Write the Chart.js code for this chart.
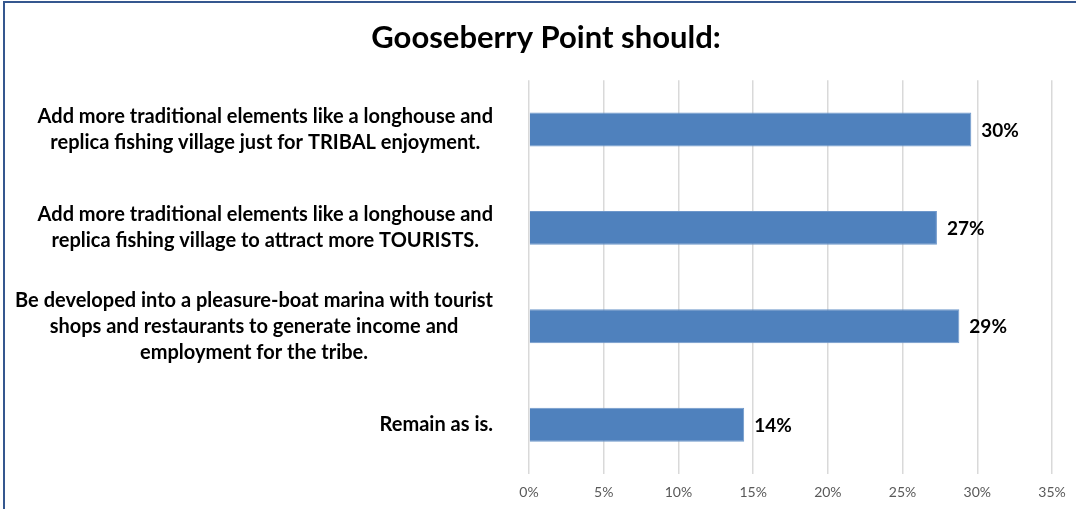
<!DOCTYPE html>
<html>
<head>
<meta charset="utf-8">
<script src="https://cdn.jsdelivr.net/npm/chart.js@4"></script>
<style>
  html, body { margin: 0; padding: 0; background: #fff; }
  #frame {
    position: absolute; left: 3px; top: 1px; width: 1200px; height: 600px;
    border-top: 2px solid #35578f; border-left: 2px solid #35578f;
  }
  #wrap { position: absolute; left: 0; top: 0; width: 1076px; height: 509px; }
</style>
</head>
<body>
<div id="frame"></div>
<div id="wrap"><canvas id="chart"></canvas></div>
<script>
const categories = [
  ["Add more traditional elements like a longhouse and", "replica fishing village just for TRIBAL enjoyment."],
  ["Add more traditional elements like a longhouse and", "replica fishing village to attract more TOURISTS."],
  ["Be developed into a pleasure-boat marina with tourist", "shops and restaurants to generate income and", "employment for the tribe."],
  ["Remain as is."]
];
const shares = [29.6, 27.3, 28.8, 14.4];   // percent of respondents
const xTicks = [0, 5, 10, 15, 20, 25, 30, 35];

const FONT = "Lato, 'Open Sans', sans-serif";

// Category labels: block right-aligned next to the axis, lines centred in the block.
const categoryLabels = {
  id: "categoryLabels",
  afterDraw(chart) {
    const { ctx, chartArea } = chart;
    const y = chart.scales.y;
    const right = chartArea.left - 36;
    const lineH = 26;
    ctx.save();
    ctx.font = "bold 20px " + FONT;
    ctx.fillStyle = "#000";
    ctx.textAlign = "center";
    ctx.textBaseline = "middle";
    categories.forEach((lines, i) => {
      const cy = y.getPixelForTick(i);
      const w = Math.max(...lines.map(l => ctx.measureText(l).width));
      const cx = right - w / 2;
      lines.forEach((line, j) => {
        ctx.fillText(line, cx, cy + (j - (lines.length - 1) / 2) * lineH);
      });
    });
    ctx.restore();
  }
};

// Value labels at the end of each bar
const valueLabels = {
  id: "valueLabels",
  afterDatasetsDraw(chart) {
    const { ctx } = chart;
    const meta = chart.getDatasetMeta(0);
    ctx.save();
    ctx.font = "bold 19px " + FONT;
    ctx.fillStyle = "#000";
    ctx.textAlign = "left";
    ctx.textBaseline = "middle";
    meta.data.forEach((bar, i) => {
      ctx.fillText(Math.round(shares[i]) + "%", bar.x + 10, bar.y + 1);
    });
    ctx.restore();
  }
};

new Chart(document.getElementById("chart"), {
  type: "bar",
  data: {
    labels: categories.map(c => c.join(" ")),
    datasets: [{
      data: shares,
      backgroundColor: "#4f81bd",
      borderColor: "#6f98cb",
      borderWidth: 1,
      barPercentage: 0.345,
      categoryPercentage: 1
    }]
  },
  plugins: [categoryLabels, valueLabels],
  options: {
    indexAxis: "y",
    responsive: true,
    maintainAspectRatio: false,
    animation: false,
    layout: { padding: { left: 40, right: 24, top: 0, bottom: 0 } },
    plugins: {
      legend: { display: false },
      tooltip: { enabled: false },
      title: {
        display: true,
        text: "Gooseberry Point should:",
        color: "#000",
        font: { family: FONT, size: 31, weight: "bold" },
        padding: { top: 19, bottom: 24 }
      }
    },
    scales: {
      x: {
        min: 0,
        max: 35,
        afterBuildTicks: (s) => { s.ticks = xTicks.map(v => ({ value: v })); },
        afterFit: (s) => { s.height = 35; },
        ticks: {
          padding: 10,
          color: "#595959",
          font: { family: FONT, size: 14 },
          callback: v => v + "%"
        },
        grid: { color: "#d9d9d9", lineWidth: 1.5, drawTicks: false },
        border: { display: false }
      },
      y: {
        afterFit: (s) => { s.width = 489; },
        ticks: { display: false },
        grid: { display: false },
        border: { display: false }
      }
    }
  }
});
</script>
</body>
</html>
